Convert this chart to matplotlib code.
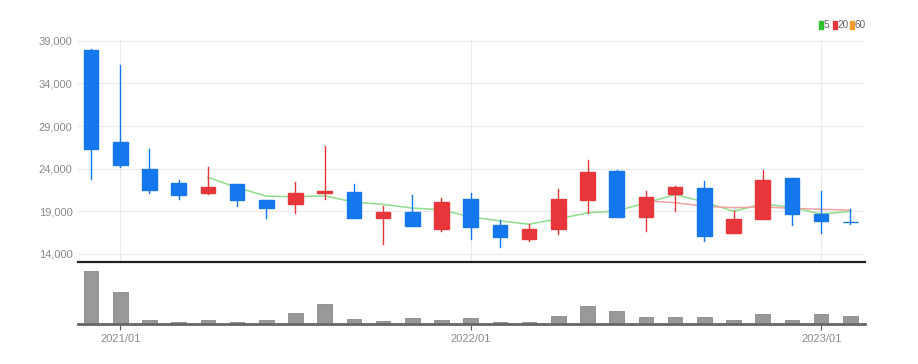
import matplotlib; matplotlib.use('agg')
import matplotlib.pyplot as plt
from matplotlib.patches import Rectangle
import numpy as np

plt.rcParams['font.family'] = ['Liberation Sans Narrow', 'Liberation Sans', 'DejaVu Sans']

# monthly candles, 2020/12 .. 2023/02
opens  = [37950, 27100, 23930, 22300, 21130, 22180, 20310, 19850, 21150, 21250, 18210, 18910, 16920, 20430,
          17390, 15760, 16920, 20310, 23700, 18330, 21010, 21710, 16460, 18090, 22880, 18670, 17800]
highs  = [38000, 36200, 26270, 22650, 24170, 22180, 20310, 22410, 26620, 22180, 19610, 20900, 20550, 21130,
          17970, 17510, 21600, 24980, 23800, 21360, 21950, 22530, 19030, 23820, 22880, 21360, 19260]
lows   = [22760, 24150, 21130, 20430, 21010, 19610, 18210, 18790, 20430, 18210, 15170, 17270, 16690, 15760,
          14830, 15520, 16340, 18790, 18300, 16690, 19030, 15520, 16460, 18090, 17390, 16460, 17510]
closes = [26270, 24400, 21480, 20900, 21830, 20310, 19380, 21130, 21400, 18210, 18910, 17270, 20080, 17150,
          15990, 16920, 20430, 23580, 18330, 20660, 21830, 16100, 18090, 22650, 18670, 17860, 17740]
volumes = [5300, 3200, 400, 250, 400, 250, 450, 1100, 2000, 550, 350, 600, 450, 600,
           250, 250, 850, 1850, 1350, 750, 750, 750, 450, 1050, 450, 1050, 850]

# moving averages as shown on the chart
ma5 = [None]*4 + [22976, 21784, 20780, 20710, 20810, 20086, 19806, 19384, 19174, 18324, 17880, 17482,
                  18114, 18814, 19050, 19984, 20966, 20100, 19002, 19866, 19468, 18674, 19002]
ma20 = [None]*19 + [20232, 20010, 19595, 19425, 19513, 19355, 19232, 19150]

tick_idx = [1, 13, 25]
tick_labels = ['2021/01', '2022/01', '2023/01']
y_ticks = [14000, 19000, 24000, 29000, 34000, 39000]

W, H = 918, 364
fig = plt.figure(figsize=(W/100, H/100), dpi=100)

def box(l, t, r, b):
    return [l/W, 1-b/H, (r-l)/W, (b-t)/H]

ax = fig.add_axes(box(78, 40, 865, 262))
axv = fig.add_axes(box(78, 262, 865, 324), sharex=ax)

blue = '#1577ee'
red = '#e8373b'
x = np.arange(len(closes))
for i in x:
    o, h, l, c = opens[i], highs[i], lows[i], closes[i]
    col = red if c >= o else blue
    ax.plot([i, i], [l, h], color=col, lw=1, zorder=3)
    ax.add_patch(Rectangle((i-0.25, min(o, c)), 0.5, max(abs(c-o), 60), color=col, zorder=4))

m5 = np.array([np.nan if v is None else v for v in ma5], dtype=float)
m20 = np.array([np.nan if v is None else v for v in ma20], dtype=float)
ax.plot(x, m5, color='#8ede8a', lw=1.1, zorder=2)
ax.plot(x, m20, color='#f4a3a3', lw=1.1, zorder=2)

ax.set_xlim(-0.445, 26.5)
ax.set_ylim(13050, 39100)
ax.set_yticks(y_ticks)
ax.set_yticklabels(['{:,}'.format(v) for v in y_ticks], color='#8a8a8a', fontsize=8)
ax.set_xticks(tick_idx)
ax.tick_params(axis='x', length=0, labelbottom=False)
ax.tick_params(axis='y', length=0, pad=4)
ax.grid(True, color='#ebebeb', lw=0.8)
ax.set_axisbelow(True)
for s in ['top', 'right', 'left']:
    ax.spines[s].set_visible(False)
ax.spines['bottom'].set_color('#222222')
ax.spines['bottom'].set_linewidth(1.6)

axv.bar(x, volumes, width=0.5, color='#999999', edgecolor='#8a8a8a', lw=0.6)
axv.set_ylim(0, 6200)
axv.set_yticks([])
axv.set_xticks(tick_idx)
axv.set_xticklabels(tick_labels, color='#8a8a8a', fontsize=8)
axv.tick_params(axis='x', length=4, color='#555555', pad=3)
for s in ['top', 'right', 'left']:
    axv.spines[s].set_visible(False)
axv.spines['bottom'].set_color('#666666')
axv.spines['bottom'].set_linewidth(2)
axv.patch.set_alpha(0)

# legend
for px, col, lab in [(819, '#2fbf2f', '5'), (833, '#e8373b', '20'), (850, '#f39c2b', '60')]:
    fig.add_artist(Rectangle((px/W, 1-29/H), 3.5/W, 8/H, color=col, transform=fig.transFigure))
    fig.text((px+4.5)/W, 1-25/H, lab, fontsize=7.2, color='#666666', va='center', ha='left')

plt.savefig('out.png', dpi=100)
